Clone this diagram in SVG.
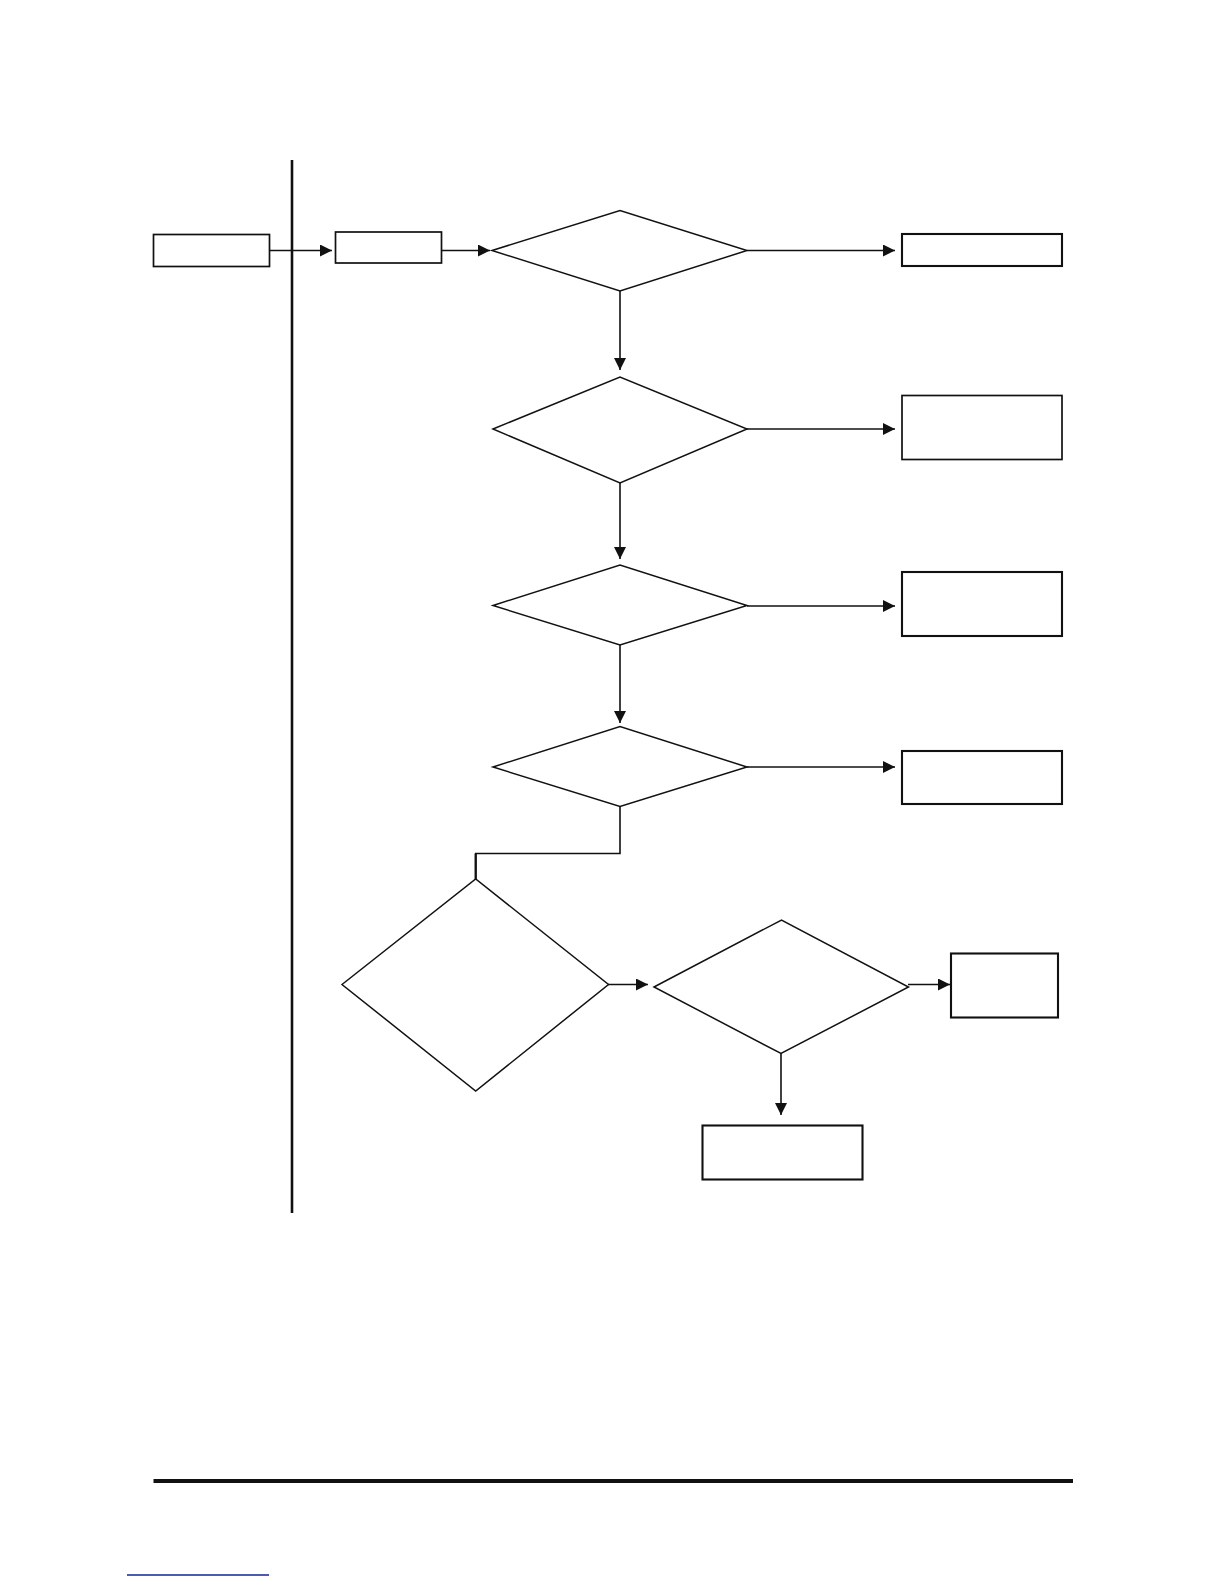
<svg xmlns="http://www.w3.org/2000/svg" width="1224" height="1584" viewBox="0 0 1224 1584">
<style>
.box{fill:#fff;stroke:#111;stroke-width:1.7}
.dia{fill:#fff;stroke:#111;stroke-width:1.5}
.con{fill:none;stroke:#111;stroke-width:1.6}
</style>
<defs>
<marker id="ah" markerUnits="userSpaceOnUse" markerWidth="12" markerHeight="12" refX="10" refY="5" orient="auto" viewBox="0 0 10 10">
<path d="M0,0 L10,5 L0,10 z" fill="#111"/>
</marker>
</defs>
<rect width="1224" height="1584" fill="#fff"/>
<line x1="292" y1="160" x2="292" y2="1213" stroke="#111" stroke-width="2.6"/>
<g id="connectors">
<line class="con" x1="270" y1="250.5" x2="332" y2="250.5" marker-end="url(#ah)"/>
<line class="con" x1="441" y1="250.5" x2="490" y2="250.5" marker-end="url(#ah)"/>
<line class="con" x1="747" y1="250.5" x2="895" y2="250.5" marker-end="url(#ah)"/>
<line class="con" x1="620" y1="291" x2="620" y2="370" marker-end="url(#ah)"/>
<line class="con" x1="747" y1="429" x2="895" y2="429" marker-end="url(#ah)"/>
<line class="con" x1="620" y1="483" x2="620" y2="559" marker-end="url(#ah)"/>
<line class="con" x1="747" y1="606" x2="895" y2="606" marker-end="url(#ah)"/>
<line class="con" x1="620" y1="645" x2="620" y2="723" marker-end="url(#ah)"/>
<line class="con" x1="747" y1="767" x2="895" y2="767" marker-end="url(#ah)"/>
<polyline class="con" points="620,806 620,853.5 475.7,853.5 475.7,879"/>
<line x1="475.7" y1="853.5" x2="475.7" y2="879" stroke="#111" stroke-width="2.2"/>
<line class="con" x1="608" y1="984.5" x2="648" y2="984.5" marker-end="url(#ah)"/>
<line class="con" x1="908" y1="984.5" x2="950" y2="984.5" marker-end="url(#ah)"/>
<line class="con" x1="781" y1="1053" x2="781" y2="1115" marker-end="url(#ah)"/>
</g>
<g id="boxA"><rect class="box" x="153.5" y="234.5" width="116" height="32"/></g>
<g id="boxB"><rect class="box" x="335.5" y="232" width="106" height="31"/></g>
<g id="d1"><polygon class="dia" points="492,250.5 620,210.5 747,250.5 620,291"/></g>
<g id="r1"><rect class="box" x="902" y="234" width="160" height="32" style="stroke-width:2.1"/></g>
<g id="d2"><polygon class="dia" points="493,429 620,377 747,429 620,483"/></g>
<g id="r2"><rect class="box" x="902" y="395.5" width="160" height="64"/></g>
<g id="d3"><polygon class="dia" points="493,605.5 620,565 747,605.5 620,645"/></g>
<g id="r3"><rect class="box" x="902" y="572" width="160" height="64" style="stroke-width:2.1"/></g>
<g id="d4"><polygon class="dia" points="493,767 620,726.5 747,767 620,806.5"/></g>
<g id="r4"><rect class="box" x="902" y="751" width="160" height="53" style="stroke-width:2.1"/></g>
<g id="d5"><polygon class="dia" points="342,984.5 475.7,879 608.5,984.5 475.7,1091"/></g>
<g id="d6"><polygon class="dia" points="654,987 781.5,920 908.5,987 781,1053.5"/></g>
<g id="r6"><rect class="box" x="951" y="953.5" width="107" height="64" style="stroke-width:2.1"/></g>
<g id="r7"><rect class="box" x="702.5" y="1125.5" width="160" height="54" style="stroke-width:2.1"/></g>
<line x1="153.5" y1="1481" x2="1073" y2="1481" stroke="#111" stroke-width="4"/>
<line x1="127" y1="1575" x2="269" y2="1575" stroke="#13229a" stroke-width="1.5"/>
</svg>
